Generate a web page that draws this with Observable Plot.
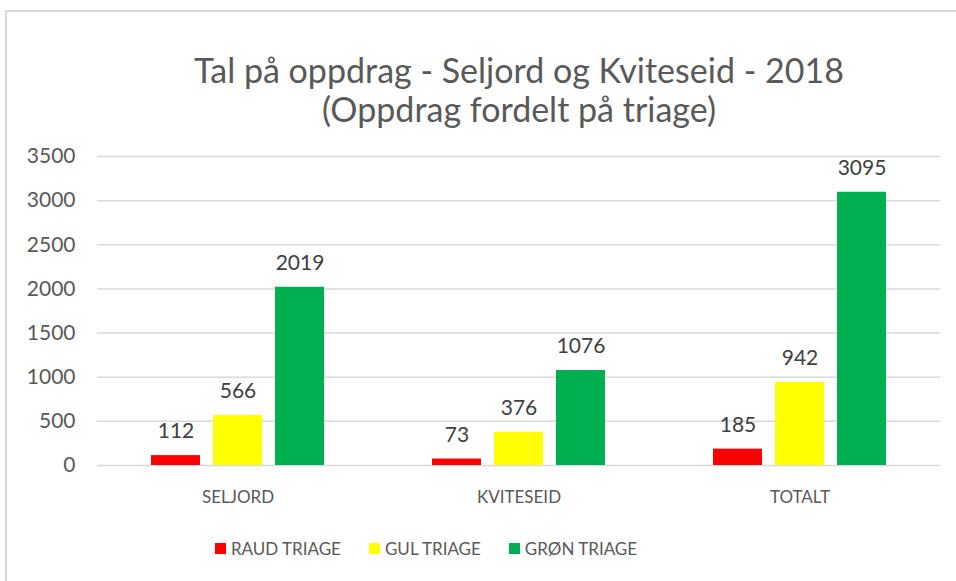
<!DOCTYPE html>
<html>
<head>
<meta charset="utf-8">
<script src="https://cdn.jsdelivr.net/npm/d3@7"></script>
<script src="https://cdn.jsdelivr.net/npm/@observablehq/plot@0.6"></script>
<style>
  html, body { margin: 0; padding: 0; background: #fff; width: 956px; height: 581px; overflow: hidden; font-family: Lato, "Open Sans", sans-serif; }
  #frame { position: absolute; left: 5px; top: 10px; right: 0; bottom: 0; border-left: 2px solid #d9d9d9; border-top: 2px solid #d9d9d9; }
  #title { position: absolute; left: 82px; width: 874px; top: 50px; text-align: center; font-size: 34px; line-height: 39px; color: #595959; }
  #chart { position: absolute; left: 0; top: 140px; }
  #legend { position: absolute; left: 0; width: 852px; top: 538px; display: flex; justify-content: center; gap: 28px; font-size: 17px; color: #595959; }
  #legend span.item { display: flex; align-items: center; gap: 5px; }
  #legend span.sw { width: 11px; height: 11px; display: inline-block; }
</style>
</head>
<body>
<div id="frame"></div>
<div id="title">Tal på oppdrag - Seljord og Kviteseid - 2018<br>(Oppdrag fordelt på triage)</div>
<div id="chart"></div>
<div id="legend"></div>
<script>
const groups = ["SELJORD", "KVITESEID", "TOTALT"];
const series = ["RAUD TRIAGE", "GUL TRIAGE", "GRØN TRIAGE"];
const raud = [112, 73, 185];
const gul = [566, 376, 942];
const gron = [2019, 1076, 3095];
const colors = ["#FF0000", "#FFFF00", "#00B050"];
const yTicks = [0, 500, 1000, 1500, 2000, 2500, 3000, 3500];

const seriesValues = [raud, gul, gron];
const rows = [];
groups.forEach((g, gi) => {
  series.forEach((s, si) => {
    rows.push({group: g, series: s, value: seriesValues[si][gi]});
  });
});

const chart = Plot.plot({
  width: 956,
  height: 370,
  marginLeft: 97,
  marginRight: 16,
  marginTop: 16,
  marginBottom: 45,
  style: {fontFamily: "Lato, 'Open Sans', sans-serif", background: "transparent"},
  fx: {domain: groups, padding: 0, label: null},
  x: {domain: series, paddingInner: 0.21, paddingOuter: 0.87, axis: null},
  y: {domain: [0, 3500], label: null, axis: null},
  color: {domain: series, range: colors},
  marks: [
    Plot.gridY(yTicks, {stroke: "#d9d9d9", strokeOpacity: 1, strokeWidth: 1.5}),
    Plot.barY(rows, {fx: "group", x: "series", y: "value", fill: "series"}),
    Plot.text(rows, {fx: "group", x: "series", y: "value", text: d => String(d.value), dy: -24, fontSize: 21, fill: "#404040"}),
    Plot.axisY(yTicks, {tickSize: 0, tickPadding: 22, fontSize: 21, fill: "#595959", tickFormat: d => String(d), label: null}),
    Plot.axisFx({anchor: "bottom", tickSize: 0, tickPadding: 25, fontSize: 17, fill: "#595959", label: null})
  ]
});
document.getElementById("chart").appendChild(chart);

const legend = document.getElementById("legend");
series.forEach((s, i) => {
  const item = document.createElement("span");
  item.className = "item";
  const sw = document.createElement("span");
  sw.className = "sw";
  sw.style.background = colors[i];
  item.appendChild(sw);
  item.appendChild(document.createTextNode(s));
  legend.appendChild(item);
});
</script>
</body>
</html>
